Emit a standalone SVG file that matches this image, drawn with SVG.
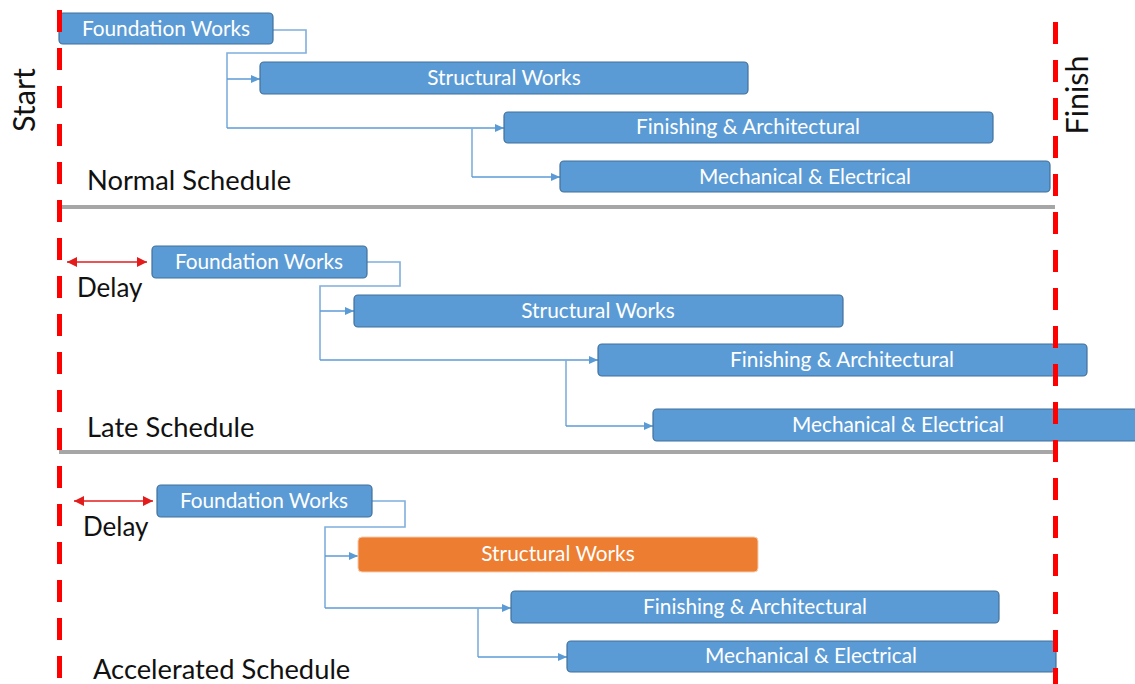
<svg xmlns="http://www.w3.org/2000/svg" width="1135" height="684" viewBox="0 0 1135 684">
<style>
.node{fill:#5B9BD5;stroke:#41719C;stroke-width:1.2}
.orange{fill:#ED7D31;stroke:#F8CBAD;stroke-width:1}
.nt{font-family:Lato,"Open Sans",sans-serif;font-size:20.8px;fill:#FFFFFF;text-anchor:middle}
.lbl{font-family:Lato,"Open Sans",sans-serif;font-size:27.3px;fill:#111111}
.dl{font-family:Lato,"Open Sans",sans-serif;font-size:26px;fill:#111111}
.big{font-family:Lato,"Open Sans",sans-serif;font-size:30.5px;fill:#111111;text-anchor:middle}
.conn{fill:none;stroke:#7FAFDD;stroke-width:1.6}
.arr{fill:none;stroke:#5B9BD5;stroke-width:1.6;marker-end:url(#ah)}
.redl{fill:none;stroke:#FF0000;stroke-width:5;stroke-dasharray:22 16}
.sep{stroke:#A6A6A6;stroke-width:4}
.delay{stroke:#E41B1B;stroke-width:1.5;marker-start:url(#rs);marker-end:url(#re)}
</style>
<defs>
<marker id="ah" markerUnits="userSpaceOnUse" markerWidth="10" markerHeight="10" refX="9" refY="4" orient="auto"><path d="M0,0 L9,4 L0,8 z" fill="#5B9BD5"/></marker>
<marker id="re" markerUnits="userSpaceOnUse" markerWidth="12" markerHeight="12" refX="10" refY="5" orient="auto"><path d="M0,0 L10,5 L0,10 z" fill="#E41B1B"/></marker>
<marker id="rs" markerUnits="userSpaceOnUse" markerWidth="12" markerHeight="12" refX="0" refY="5" orient="auto"><path d="M10,0 L0,5 L10,10 z" fill="#E41B1B"/></marker>
</defs>
<rect width="1135" height="684" fill="#FFFFFF"/>

<g id="separators">
<line class="sep" x1="59" y1="207" x2="1055" y2="207"/>
<line class="sep" x1="59" y1="452" x2="1055" y2="452"/>
</g>

<g id="connectors">
<path class="conn" d="M273,30 H306 V53 H227 V128"/>
<path class="arr" d="M227,128 H504"/>
<path class="arr" d="M227,79 H260"/>
<path class="conn" d="M472,128 V177"/>
<path class="arr" d="M472,177 H560"/>

<path class="conn" d="M367,262 H400 V286 H320 V360"/>
<path class="arr" d="M320,360 H598"/>
<path class="arr" d="M320,311 H354"/>
<path class="conn" d="M566,360 V426"/>
<path class="arr" d="M566,426 H653"/>

<path class="conn" d="M372,501 H405 V527 H325 V608"/>
<path class="arr" d="M325,608 H511"/>
<path class="arr" d="M325,556 H358"/>
<path class="conn" d="M478,608 V657"/>
<path class="arr" d="M478,657 H567"/>

<line class="delay" x1="67" y1="262" x2="147" y2="262"/>
<line class="delay" x1="74" y1="501" x2="153" y2="501"/>
</g>

<g id="n-foundation-normal"><rect class="node" x="59" y="13" width="214" height="31" rx="4"/><text class="nt" x="166" y="36">Foundation Works</text></g>
<g id="n-structural-normal"><rect class="node" x="260" y="62" width="488" height="32" rx="4"/><text class="nt" x="504" y="85">Structural Works</text></g>
<g id="n-finishing-normal"><rect class="node" x="504" y="112" width="489" height="31" rx="4"/><text class="nt" x="748" y="134">Finishing &amp; Architectural</text></g>
<g id="n-mechanical-normal"><rect class="node" x="560" y="161" width="490" height="31" rx="4"/><text class="nt" x="805" y="184">Mechanical &amp; Electrical</text></g>

<g id="n-foundation-late"><rect class="node" x="152" y="246" width="215" height="32" rx="4"/><text class="nt" x="259" y="269">Foundation Works</text></g>
<g id="n-structural-late"><rect class="node" x="354" y="295" width="489" height="32" rx="4"/><text class="nt" x="598" y="318">Structural Works</text></g>
<g id="n-finishing-late"><rect class="node" x="598" y="344" width="489" height="32" rx="4"/><text class="nt" x="842" y="367">Finishing &amp; Architectural</text></g>
<g id="n-mechanical-late"><rect class="node" x="653" y="409" width="490" height="32" rx="4"/><text class="nt" x="898" y="432">Mechanical &amp; Electrical</text></g>

<g id="n-foundation-acc"><rect class="node" x="157" y="485" width="215" height="32" rx="4"/><text class="nt" x="264" y="508">Foundation Works</text></g>
<g id="n-structural-acc"><rect class="orange" x="358" y="537" width="400" height="35" rx="4"/><text class="nt" x="558" y="561">Structural Works</text></g>
<g id="n-finishing-acc"><rect class="node" x="511" y="591" width="488" height="32" rx="4"/><text class="nt" x="755" y="614">Finishing &amp; Architectural</text></g>
<g id="n-mechanical-acc"><rect class="node" x="567" y="641" width="489" height="31" rx="4"/><text class="nt" x="811" y="663">Mechanical &amp; Electrical</text></g>

<g id="guides">
<line class="redl" x1="59.5" y1="10" x2="59.5" y2="684"/>
<line class="redl" x1="1055.5" y1="22" x2="1055.5" y2="684"/>
</g>

<g id="labels">
<text class="big" transform="translate(35,100) rotate(-90)">Start</text>
<text class="big" transform="translate(1088,95) rotate(-90)">Finish</text>
<text class="lbl" x="87" y="190">Normal Schedule</text>
<text class="lbl" x="87" y="437">Late Schedule</text>
<text class="lbl" x="93" y="679">Accelerated Schedule</text>
<text class="dl" x="77" y="297">Delay</text>
<text class="dl" x="83" y="536">Delay</text>
</g>
</svg>
